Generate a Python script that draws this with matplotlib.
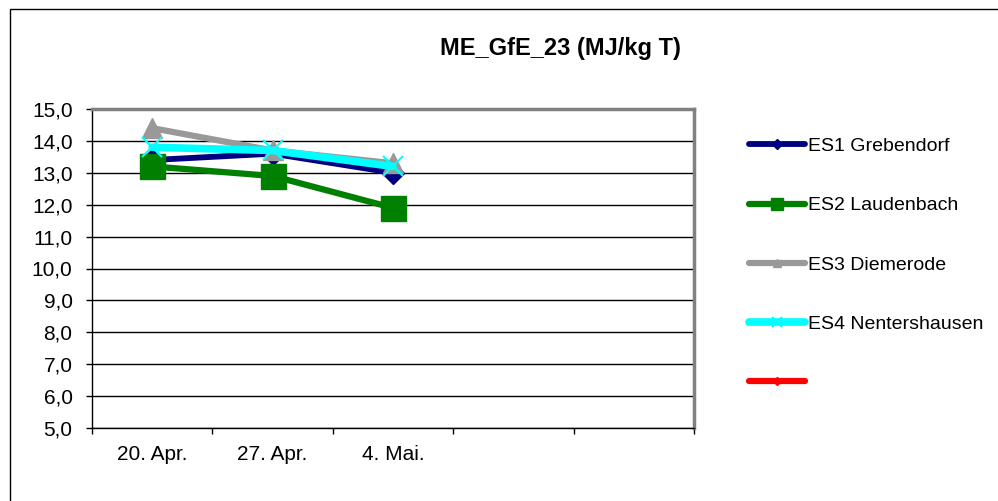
import matplotlib
matplotlib.use("Agg")
import matplotlib.pyplot as plt
from matplotlib.patches import Rectangle
from matplotlib.ticker import FixedLocator, FuncFormatter
import numpy as np

plt.rcParams['font.family'] = ['Liberation Sans', 'DejaVu Sans']

# Daten
kategorien = ["20. Apr.", "27. Apr.", "4. Mai.", "", ""]
es1 = [13.4, 13.6, 13.0]
es2 = [13.2, 12.9, 11.9]
es3 = [14.4, 13.7, 13.3]
es4 = [13.8, 13.7, 13.2]
serien_namen = ["ES1 Grebendorf", "ES2 Laudenbach", "ES3 Diemerode", "ES4 Nentershausen", ""]

W, H = 998, 501
fig = plt.figure(figsize=(W / 100, H / 100), dpi=100)

# Rahmen um das Diagramm
fig.patches.append(Rectangle((10 / W, -0.1), 1.2, (H - 9) / H + 0.1, transform=fig.transFigure,
                             fill=False, edgecolor='black', linewidth=1))

ax = fig.add_axes([92 / W, (H - 428) / H, (694 - 92) / W, (428 - 109) / H])

x = np.arange(len(es1))
ax.plot(x, es1, color='#000080', lw=4.2, marker='D', ms=11, zorder=3, solid_capstyle='round')
ax.plot(x, es2, color='#008000', lw=4.5, marker='s', ms=18, zorder=4, solid_capstyle='round')
ax.plot(x, es3, color='#999999', lw=4.5, marker='^', ms=14, zorder=5, solid_capstyle='round')
ax.plot(x, es4, color='#00FFFF', lw=5.5, marker='x', ms=15, mew=1.5, zorder=6, solid_capstyle='round')
ax.plot([], [], color='#FF0000', lw=4.5, marker='D', ms=8, solid_capstyle='round')

ax.set_xlim(-0.5, len(kategorien) - 0.5)
ax.set_ylim(5, 15)
ax.set_yticks(np.arange(5, 15.1, 1))
ax.yaxis.set_major_formatter(FuncFormatter(lambda v, p: f"{v:.1f}".replace('.', ',')))
ax.yaxis.grid(True, color='black', lw=1)
ax.set_axisbelow(True)

ax.xaxis.set_major_locator(FixedLocator(np.arange(-0.5, len(kategorien), 1)))
ax.xaxis.set_major_formatter(FuncFormatter(lambda v, p: ""))
ax.xaxis.set_minor_locator(FixedLocator(np.arange(len(kategorien))))
ax.set_xticklabels(kategorien, minor=True)
ax.tick_params(axis='x', which='minor', length=0, labelsize=15, pad=12)
ax.tick_params(axis='x', which='major', length=4.5, width=1, direction='out')
ax.tick_params(axis='y', length=4, width=1, labelsize=15, pad=10)

for s in ['top', 'right']:
    ax.spines[s].set_color('#808080')
    ax.spines[s].set_linewidth(2.5)
for s in ['left', 'bottom']:
    ax.spines[s].set_color('black')
    ax.spines[s].set_linewidth(1)

fig.text(560 / W, 1 - 48 / H, "ME_GfE_23 (MJ/kg T)", ha='center', va='center',
         fontsize=17, fontweight='bold')

handles = ax.get_lines()
fig.legend(handles, serien_namen, loc='upper left', bbox_to_anchor=(749 / W, 1 - 137.5 / H),
           frameon=False, fontsize=14, markerscale=0.45, handlelength=2.9,
           handletextpad=0.15, labelspacing=2.14, borderaxespad=0, borderpad=0)

fig.savefig("out.png", dpi=100)
